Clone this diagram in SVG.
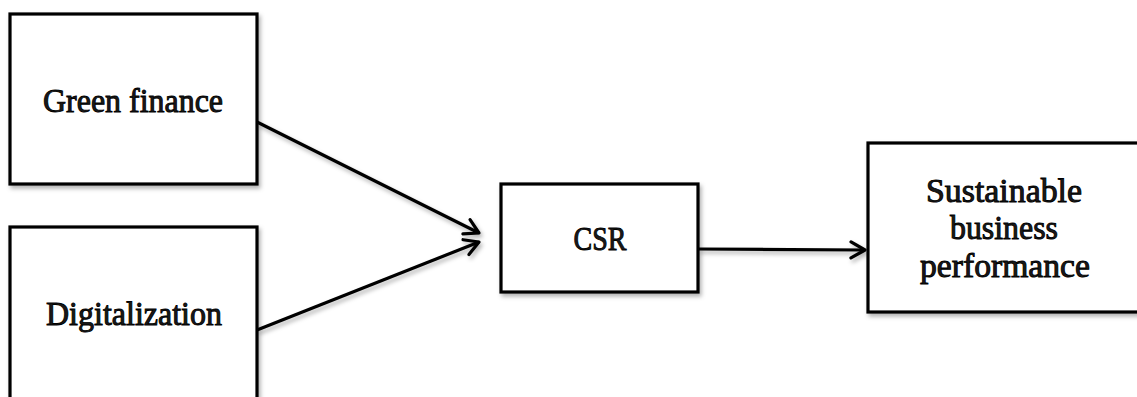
<svg xmlns="http://www.w3.org/2000/svg" width="1137" height="397" viewBox="0 0 1137 397">
<defs>
<filter id="sh" x="-10%" y="-10%" width="130%" height="130%">
<feDropShadow dx="2" dy="3" stdDeviation="2" flood-color="#000" flood-opacity="0.3"/>
</filter>
<marker id="arr" viewBox="0 0 20 20" refX="18" refY="10" markerWidth="20" markerHeight="20" markerUnits="userSpaceOnUse" orient="auto">
<path d="M4,2 L18,10 L4,18" fill="none" stroke="#000" stroke-width="3.2" stroke-linecap="round" stroke-linejoin="round"/>
</marker>
</defs>
<style>
.box{fill:#fff;stroke:#000;stroke-width:3.2}
.t{font-family:"Liberation Serif","Times New Roman",serif;font-size:33px;fill:#1a1a1a;stroke:#000;stroke-width:0.9;text-anchor:middle}
.c{stroke:#000;stroke-width:3.2;fill:none}
</style>
<g id="connectors" filter="url(#sh)">
<line class="c" x1="257" y1="122" x2="479" y2="233" marker-end="url(#arr)"/>
<line class="c" x1="257" y1="330" x2="479" y2="242" marker-end="url(#arr)"/>
<line class="c" x1="698" y1="249" x2="865" y2="250" marker-end="url(#arr)"/>
</g>
<g id="green-finance">
<rect class="box" x="10" y="14" width="247" height="170" filter="url(#sh)"/>
<text class="t" x="133" y="112" textLength="180" lengthAdjust="spacingAndGlyphs">Green finance</text>
</g>
<g id="digitalization">
<rect class="box" x="10" y="227" width="247" height="175" filter="url(#sh)"/>
<text class="t" x="134" y="325" textLength="176" lengthAdjust="spacingAndGlyphs">Digitalization</text>
</g>
<g id="csr">
<rect class="box" x="501" y="184" width="197" height="108" filter="url(#sh)"/>
<text class="t" x="600" y="250" textLength="53" lengthAdjust="spacingAndGlyphs">CSR</text>
</g>
<g id="sbp">
<rect class="box" x="868" y="143" width="275" height="169" filter="url(#sh)"/>
<text class="t" x="1004" y="202" textLength="156" lengthAdjust="spacingAndGlyphs">Sustainable</text>
<text class="t" x="1004" y="239" textLength="108" lengthAdjust="spacingAndGlyphs">business</text>
<text class="t" x="1005" y="277" textLength="170" lengthAdjust="spacingAndGlyphs">performance</text>
</g>
</svg>
